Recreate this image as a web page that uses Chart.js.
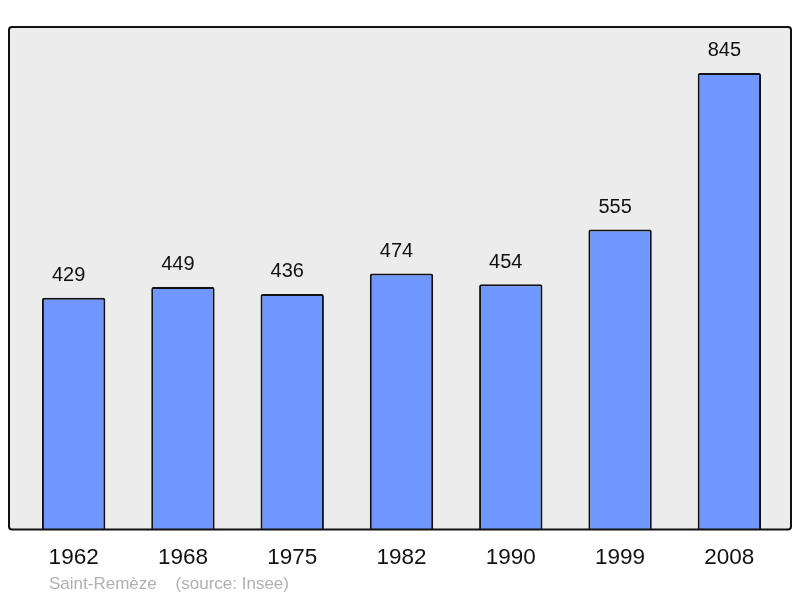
<!DOCTYPE html>
<html>
<head>
<meta charset="utf-8">
<script src="https://cdn.jsdelivr.net/npm/chart.js@4"></script>
<style>
  html, body { margin: 0; padding: 0; background: #fff; }
  #wrap { width: 800px; height: 598px; position: relative; }
</style>
</head>
<body>
<div id="wrap"><canvas id="popChart"></canvas></div>
<script>
// Données de population (recensements)
const annees = ['1962', '1968', '1975', '1982', '1990', '1999', '2008'];
const population = [429, 449, 436, 474, 454, 555, 845];
const legende = 'Saint-Remèze    (source: Insee)';

// Fond gris avec bordure noire autour de la zone du graphique
const fondPlugin = {
  id: 'fond',
  beforeDraw(chart) {
    const { ctx, chartArea: a } = chart;
    const x = a.left - 10, y = a.top, w = a.right - a.left + 17, h = a.bottom - a.top;
    ctx.save();
    ctx.beginPath();
    ctx.roundRect(x, y, w, h, 3);
    ctx.fillStyle = '#ececec';
    ctx.fill();
    ctx.restore();
  },
  afterDatasetsDraw(chart) {
    const { ctx, chartArea: a } = chart;
    const x = a.left - 10, y = a.top, w = a.right - a.left + 17, h = a.bottom - a.top;
    ctx.save();
    ctx.beginPath();
    ctx.roundRect(x, y, w, h, 3);
    ctx.lineWidth = 2;
    ctx.strokeStyle = '#111';
    ctx.stroke();
    ctx.restore();
  }
};

// Valeurs au-dessus des barres + légende en bas
const etiquettesPlugin = {
  id: 'etiquettes',
  afterDraw(chart) {
    const { ctx } = chart;
    const meta = chart.getDatasetMeta(0);
    ctx.save();
    ctx.font = '20px "Liberation Sans", Arial, sans-serif';
    ctx.fillStyle = '#111';
    ctx.textAlign = 'center';
    ctx.textBaseline = 'middle';
    meta.data.forEach((bar, i) => {
      // les étiquettes sont un peu décalées à gauche dans l'original
      ctx.fillText(population[i], bar.x - 5, bar.y - 22);
    });
    ctx.font = '17px "Liberation Sans", Arial, sans-serif';
    ctx.fillStyle = '#b0b0b0';
    ctx.textAlign = 'left';
    ctx.fillText(legende, 49, 584);
    ctx.restore();
  }
};

const ctx = document.getElementById('popChart').getContext('2d');
new Chart(ctx, {
  type: 'bar',
  data: {
    labels: annees,
    datasets: [{
      data: population,
      backgroundColor: '#7097ff',
      borderColor: '#111',
      borderWidth: 2,
      borderRadius: 2,
      borderSkipped: 'bottom',
      categoryPercentage: 0.58,
      barPercentage: 1
    }]
  },
  options: {
    responsive: true,
    maintainAspectRatio: false,
    animation: false,
    layout: { padding: { left: 19, right: 16, top: 27, bottom: 12.5 } },
    plugins: {
      legend: { display: false },
      tooltip: { enabled: false }
    },
    scales: {
      x: {
        grid: { display: false, drawTicks: false },
        border: { display: false },
        ticks: {
          padding: 14.5,
          color: '#111',
          font: { size: 22.5, family: '"Liberation Sans", Arial, sans-serif' }
        }
      },
      y: {
        display: false,
        min: 0,
        max: 930
      }
    }
  },
  plugins: [fondPlugin, etiquettesPlugin]
});
</script>
</body>
</html>
